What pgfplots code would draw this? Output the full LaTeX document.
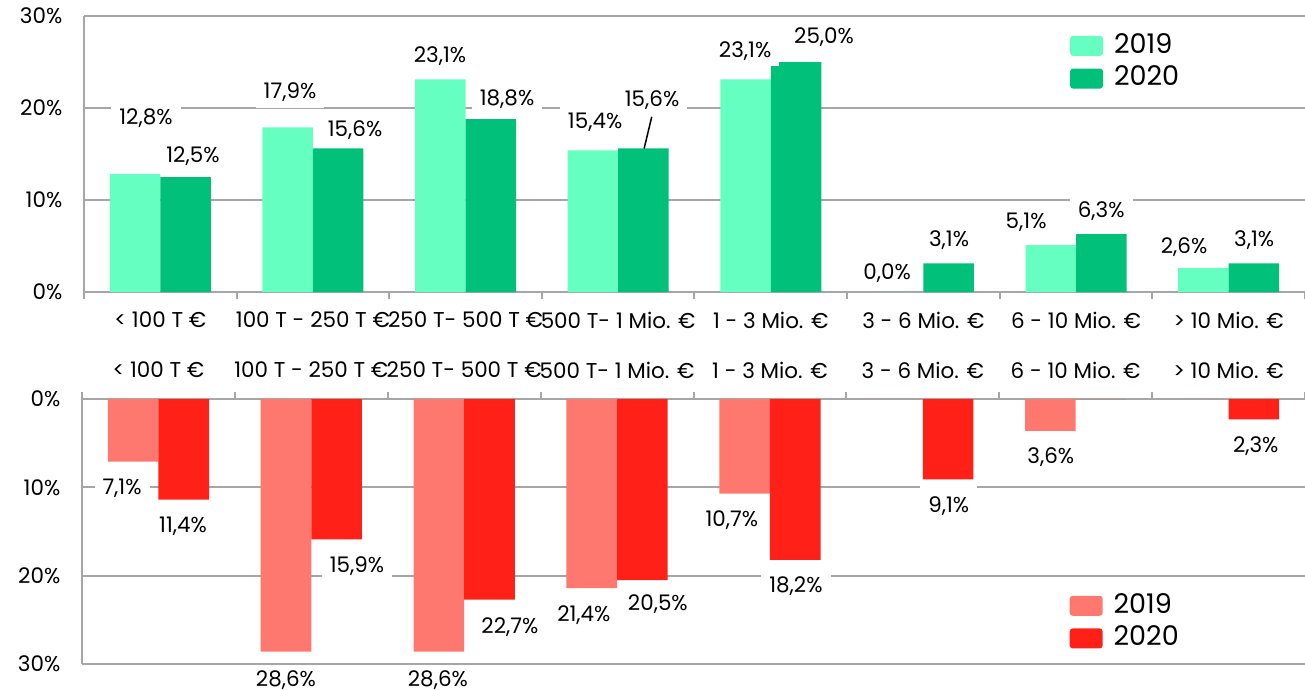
\documentclass[border=0pt]{standalone}
\usepackage{fontspec}
\setmainfont{Poppins}
\usepackage{pgfplots}
\pgfplotsset{compat=1.18}
\definecolor{mint}{HTML}{66FFC2}
\definecolor{grn}{HTML}{00C07A}
\definecolor{salmon}{HTML}{FF7870}
\definecolor{redd}{HTML}{FF2018}
\definecolor{gridgray}{HTML}{A6A6A6}

\tikzset{lbl/.style={fill=white, inner xsep=0.8mm, inner ysep=0.6mm,
    font=\fontsize{6.1}{7}\selectfont, text=black}}

\pgfplotsset{
  halfchart/.style={
    scale only axis,
    ybar, bar width=0.331,
    xmin=-0.5, xmax=7.5, ymin=0, ymax=30,
    axis y line*=left,
    axis line style={gridgray, line width=0.2mm},
    xtick={0,...,7},
    xticklabels={{< 100 T €},{100 T - 250 T €},{250 T- 500 T €},{500 T- 1 Mio. €},{1 - 3 Mio. €},{3 - 6 Mio. €},{6 - 10 Mio. €},{> 10 Mio. €}},
    major tick length=0pt,
    tick style={gridgray, line width=0.2mm},
    extra x ticks={-0.5,0.5,...,7.5},
    extra x tick labels={},
    extra x tick style={major tick length=0.7mm, tick align=outside},
    ytick={0,10,20,30},
    yticklabels={0\%,10\%,20\%,30\%},
    ymajorgrids, major grid style={gridgray, line width=0.2mm},
    yticklabel style={inner sep=0pt, anchor=east, xshift=-2.1mm},
    tick label style={font=\fontsize{6.1}{7}\selectfont, text=black},
    clip=false,
    legend cell align=left,
    legend style={draw=none, fill=none, anchor=north west, inner sep=0pt,
      row sep=0.75mm, column sep=1.1mm, font=\fontsize{7.7}{8}\selectfont,
      nodes={inner sep=0pt}},
  },
  sq/.style={legend image code/.code={\fill[##1, rounded corners=0.3mm] (0mm,-1mm) rectangle (3.3mm,1mm);}},
}

\begin{document}
\begin{tikzpicture}
\useasboundingbox (0,0) rectangle (130.5mm,68.9mm);

% upper panel
\begin{axis}[halfchart, width=122.1mm, height=27.6mm,
  axis x line*=bottom,
  at={(8.4mm,39.7mm)}, anchor=south west,
  xticklabel style={anchor=center, yshift=-2.8mm},
  legend style={at={(0.807,0.94)}}]
\addplot[fill=mint, draw=none, bar shift=-0.1655, sq] coordinates
  {(0,12.8) (1,17.9) (2,23.1) (3,15.4) (4,23.1) (5,0) (6,5.1) (7,2.6)};
\addlegendentry{2019}
\addplot[fill=grn, draw=none, bar shift=0.1655, sq] coordinates
  {(0,12.5) (1,15.6) (2,18.8) (3,15.6) (4,25.0) (5,3.1) (6,6.3) (7,3.1)};
\addlegendentry{2020}
\node[lbl] at (axis cs:-0.094,18.9) {12,8\%};
\node[lbl] at (axis cs:0.214,14.8) {12,5\%};
\node[lbl] at (axis cs:0.850,21.7) {17,9\%};
\node[lbl] at (axis cs:1.276,17.6) {15,6\%};
\node[lbl] at (axis cs:1.833,25.65) {23,1\%};
\node[lbl] at (axis cs:2.272,21.0) {18,8\%};
\node[lbl] at (axis cs:2.849,18.5) {15,4\%};
\draw[black, line width=0.15mm] (axis cs:3.220,19.05) -- (axis cs:3.170,15.6);
\node[lbl] at (axis cs:3.222,20.9) {15,6\%};
\node[lbl] at (axis cs:3.832,26.2) {23,1\%};
\node[lbl] at (axis cs:4.349,27.7) {25,0\%};
\node[lbl] at (axis cs:4.762,2.07) {0,0\%};
\node[lbl] at (axis cs:5.168,5.65) {3,1\%};
\node[lbl] at (axis cs:5.673,7.6) {5,1\%};
\node[lbl] at (axis cs:6.165,8.8) {6,3\%};
\node[lbl] at (axis cs:6.708,4.9) {2,6\%};
\node[lbl] at (axis cs:7.167,5.65) {3,1\%};
\end{axis}

% lower panel
\begin{axis}[halfchart, width=122.3mm, height=26.5mm, y dir=reverse,
  axis x line*=top,
  at={(8.2mm,29.0mm)}, anchor=north west,
  xticklabel style={anchor=center, yshift=2.9mm},
  legend style={at={(0.807,0.27)}}]
\addplot[fill=salmon, draw=none, bar shift=-0.1655, sq] coordinates
  {(0,7.1) (1,28.6) (2,28.6) (3,21.4) (4,10.7) (5,0) (6,3.6) (7,0)};
\addlegendentry{2019}
\addplot[fill=redd, draw=none, bar shift=0.1655, sq] coordinates
  {(0,11.4) (1,15.9) (2,22.7) (3,20.5) (4,18.2) (5,9.1) (6,0) (7,2.3)};
\addlegendentry{2020}
\node[lbl] at (axis cs:-0.238,10.1) {7,1\%};
\node[lbl] at (axis cs:0.161,14.4) {11,4\%};
\node[lbl, fill=none] at (axis cs:0.834,31.8) {28,6\%};
\node[lbl] at (axis cs:1.299,18.9) {15,9\%};
\node[lbl, fill=none] at (axis cs:1.828,31.8) {28,6\%};
\node[lbl] at (axis cs:2.299,25.8) {22,7\%};
\node[lbl] at (axis cs:2.783,24.5) {21,4\%};
\node[lbl] at (axis cs:3.267,23.2) {20,5\%};
\node[lbl] at (axis cs:3.751,13.7) {10,7\%};
\node[lbl] at (axis cs:4.170,21.2) {18,2\%};
\node[lbl, inner ysep=1.1mm] at (axis cs:5.170,12.1) {9,1\%};
\node[lbl] at (axis cs:5.837,6.6) {3,6\%};
\node[lbl] at (axis cs:7.178,5.3) {2,3\%};
\end{axis}
\end{tikzpicture}
\end{document}
